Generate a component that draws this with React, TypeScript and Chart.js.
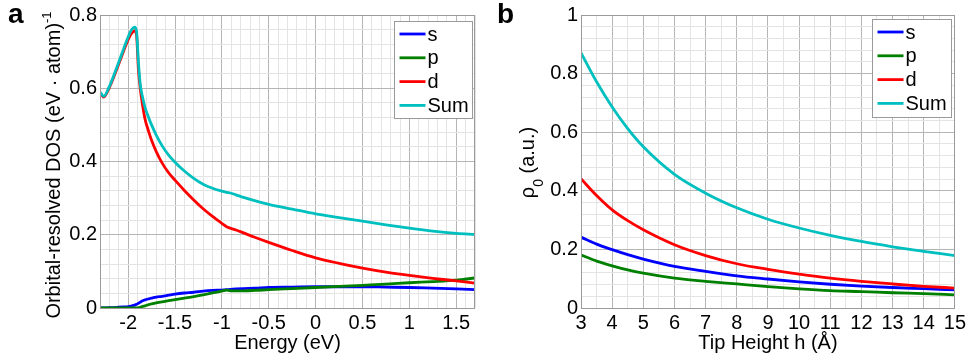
import React, { useEffect, useRef } from "react";
import { Chart, registerables } from "chart.js";

Chart.register(...registerables);

const FONT = '"Liberation Sans", Arial, Helvetica, sans-serif';

// ---------- Panel a: orbital-resolved DOS vs energy ----------
const energyEv = [
  -2.3, -2.26, -2.2, -2.15, -2.1, -2.05, -2.0, -1.96, -1.93, -1.91,
  -1.89, -1.87, -1.85, -1.82, -1.78, -1.75, -1.7, -1.64, -1.57, -1.5,
  -1.4, -1.3, -1.2, -1.1, -1.0, -0.95, -0.91, -0.85, -0.77, -0.65,
  -0.5, -0.25, 0, 0.25, 0.5, 0.75, 1.0, 1.25, 1.5, 1.7,
];
const dosS = [
  0.0, 0.0, 0.001, 0.001, 0.002, 0.003, 0.004, 0.006, 0.008, 0.01,
  0.013, 0.016, 0.019, 0.022, 0.025, 0.027, 0.03, 0.032, 0.035, 0.038,
  0.041, 0.043, 0.046, 0.048, 0.049, 0.05, 0.051, 0.052, 0.053, 0.054,
  0.056, 0.057, 0.058, 0.058, 0.058, 0.057, 0.056, 0.054, 0.052, 0.05,
];
const dosP = [
  0, 0, 0, 0, 0, 0, 0, 0, 0, 0,
  0.001, 0.002, 0.004, 0.006, 0.009, 0.011, 0.014, 0.017, 0.02, 0.023,
  0.027, 0.031, 0.036, 0.041, 0.046, 0.049, 0.047, 0.047, 0.047, 0.048,
  0.05, 0.053, 0.056, 0.059, 0.062, 0.065, 0.069, 0.072, 0.076, 0.082,
];
const dosD = [
  0.587, 0.576, 0.602, 0.633, 0.666, 0.7, 0.733, 0.751, 0.757, 0.745,
  0.65, 0.598, 0.561, 0.516, 0.481, 0.458, 0.427, 0.397, 0.37, 0.349,
  0.321, 0.295, 0.271, 0.25, 0.231, 0.222, 0.218, 0.213, 0.205, 0.193,
  0.179, 0.157, 0.137, 0.122, 0.109, 0.098, 0.089, 0.081, 0.074, 0.068,
];
const dosSum = [
  0.589, 0.578, 0.605, 0.637, 0.671, 0.706, 0.74, 0.761, 0.767, 0.755,
  0.671, 0.609, 0.58, 0.548, 0.519, 0.5, 0.472, 0.444, 0.418, 0.398,
  0.374, 0.354, 0.338, 0.327, 0.319, 0.316, 0.314, 0.309, 0.302, 0.293,
  0.283, 0.27, 0.257, 0.247, 0.237, 0.227, 0.218, 0.21, 0.204, 0.201,
];
const aXTickValues = [-2, -1.5, -1, -0.5, 0, 0.5, 1, 1.5];
const aXTickLabels = ["-2", "-1.5", "-1", "-0.5", "0", "0.5", "1", "1.5"];
const aYTickValues = [0, 0.2, 0.4, 0.6, 0.8];
const aYTickLabels = ["0", "0.2", "0.4", "0.6", "0.8"];

// ---------- Panel b: rho_0 vs tip height ----------
const tipHeight = [3, 3.5, 4, 4.5, 5, 6, 7, 8, 9, 10, 11, 12, 13, 14, 15];
const rhoS = [0.242, 0.218, 0.199, 0.182, 0.167, 0.142, 0.125, 0.11, 0.099, 0.089, 0.081, 0.075, 0.07, 0.066, 0.062];
const rhoP = [0.181, 0.16, 0.144, 0.13, 0.119, 0.102, 0.091, 0.082, 0.073, 0.065, 0.059, 0.056, 0.052, 0.049, 0.045];
const rhoD = [0.441, 0.384, 0.335, 0.298, 0.267, 0.216, 0.179, 0.151, 0.132, 0.116, 0.102, 0.091, 0.082, 0.074, 0.068];
const rhoSum = [0.871, 0.772, 0.686, 0.612, 0.55, 0.456, 0.392, 0.342, 0.303, 0.273, 0.248, 0.227, 0.209, 0.193, 0.179];
const bXTickValues = [3, 4, 5, 6, 7, 8, 9, 10, 11, 12, 13, 14, 15];
const bXTickLabels = ["3", "4", "5", "6", "7", "8", "9", "10", "11", "12", "13", "14", "15"];
const bYTickValues = [0, 0.2, 0.4, 0.6, 0.8, 1];
const bYTickLabels = ["0", "0.2", "0.4", "0.6", "0.8", "1"];

const seriesNames = ["s", "p", "d", "Sum"];
const seriesColors = ["#0000ff", "#008000", "#ff0000", "#00bfbf"];

const MAJOR_GRID = "#b5b5b5";
const MINOR_GRID = "#e4e4e4";
const BOX_COLOR = "#9a9a9a";

type TitlePart = { text: string; size: number; shift: number };

type PanelSpec = {
  xs: number[];
  series: number[][];
  xMin: number;
  xMax: number;
  xMinor: number;
  yMin: number;
  yMax: number;
  yMinor: number;
  xTickValues: number[];
  xTickLabels: string[];
  yTickValues: number[];
  yTickLabels: string[];
  xTitle: string;
  yTitleParts: TitlePart[];
  yTitleBaselineX: number;
  yTitleCenterY: number;
  yAxisWidth: number;
  padRight: number;
  legendRightGap: number;
  legendTopGap: number;
  legendW: number;
  legendH: number;
};

function gridValues(min: number, max: number, step: number): number[] {
  const n = Math.round((max - min) / step);
  const out: number[] = [];
  for (let i = 0; i <= n; i++) out.push(+(min + i * step).toFixed(6));
  return out;
}

function findIdx(list: number[], v: number): number {
  return list.findIndex((t) => Math.abs(t - v) < 1e-6);
}

function makeConfig(p: PanelSpec): any {
  const boxPlugin = {
    id: "boxPlugin",
    afterDatasetsDraw(chart: any) {
      const { ctx, chartArea } = chart;
      ctx.save();
      ctx.strokeStyle = BOX_COLOR;
      ctx.lineWidth = 1;
      ctx.strokeRect(
        Math.round(chartArea.left) + 0.5,
        Math.round(chartArea.top) + 0.5,
        Math.round(chartArea.right - chartArea.left) - 1,
        Math.round(chartArea.bottom - chartArea.top)
      );
      ctx.restore();
    },
  };

  const legendPlugin = {
    id: "insideLegend",
    afterDraw(chart: any) {
      const { ctx, chartArea } = chart;
      const bx = Math.round(chartArea.right - p.legendRightGap - p.legendW) + 0.5;
      const by = Math.round(chartArea.top + p.legendTopGap) + 0.5;
      ctx.save();
      ctx.fillStyle = "#ffffff";
      ctx.fillRect(bx, by, p.legendW, p.legendH);
      ctx.strokeStyle = BOX_COLOR;
      ctx.lineWidth = 1;
      ctx.strokeRect(bx, by, p.legendW, p.legendH);
      const dsets = chart.data.datasets;
      for (let i = 0; i < dsets.length; i++) {
        const y = by + 12.5 + i * 23.8;
        ctx.strokeStyle = dsets[i].borderColor;
        ctx.lineWidth = 2.8;
        ctx.beginPath();
        ctx.moveTo(bx + 5, y);
        ctx.lineTo(bx + 31, y);
        ctx.stroke();
        ctx.fillStyle = "#000";
        ctx.font = `20px ${FONT}`;
        ctx.textAlign = "left";
        ctx.textBaseline = "middle";
        ctx.fillText(dsets[i].label, bx + 33, y + 1);
      }
      ctx.restore();
    },
  };

  const titlePlugin = {
    id: "axisTitles",
    afterDraw(chart: any) {
      const { ctx, chartArea } = chart;
      ctx.save();
      ctx.fillStyle = "#000";
      ctx.font = `20px ${FONT}`;
      ctx.textAlign = "center";
      ctx.textBaseline = "alphabetic";
      ctx.fillText(p.xTitle, (chartArea.left + chartArea.right) / 2, 348.5);
      ctx.translate(p.yTitleBaselineX, p.yTitleCenterY);
      ctx.rotate(-Math.PI / 2);
      ctx.textAlign = "left";
      let total = 0;
      for (const part of p.yTitleParts) {
        ctx.font = `${part.size}px ${FONT}`;
        total += ctx.measureText(part.text).width;
      }
      let x = -total / 2;
      for (const part of p.yTitleParts) {
        ctx.font = `${part.size}px ${FONT}`;
        ctx.fillText(part.text, x, -part.shift);
        x += ctx.measureText(part.text).width;
      }
      ctx.restore();
    },
  };

  const datasets = p.series.map((vals, i) => ({
    label: seriesNames[i],
    data: p.xs.map((x, j) => ({ x, y: vals[j] })),
    borderColor: seriesColors[i],
    backgroundColor: seriesColors[i],
    borderWidth: 2.8,
    pointRadius: 0,
    fill: false,
    cubicInterpolationMode: "monotone",
    order: p.series.length - i,
  }));

  const tickFont = { family: FONT, size: 20 };

  return {
    type: "line",
    data: { datasets },
    options: {
      animation: false,
      responsive: false,
      maintainAspectRatio: false,
      devicePixelRatio: 1,
      events: [],
      layout: { padding: { top: 15, right: p.padRight, left: 0, bottom: 0 } },
      plugins: {
        legend: { display: false },
        tooltip: { enabled: false },
        title: { display: false },
      },
      scales: {
        x: {
          type: "linear",
          min: p.xMin,
          max: p.xMax,
          afterBuildTicks: (s: any) => {
            s.ticks = gridValues(p.xMin, p.xMax, p.xMinor).map((v) => ({ value: v }));
          },
          afterFit: (s: any) => {
            s.height = 52;
          },
          border: { display: false },
          grid: {
            drawTicks: false,
            lineWidth: 1,
            color: (c: any) =>
              c.tick && findIdx(p.xTickValues, c.tick.value) >= 0 ? MAJOR_GRID : MINOR_GRID,
          },
          ticks: {
            autoSkip: false,
            maxRotation: 0,
            minRotation: 0,
            padding: 3,
            color: "#000",
            font: tickFont,
            callback: (v: number) => {
              const k = findIdx(p.xTickValues, v);
              return k >= 0 ? p.xTickLabels[k] : "";
            },
          },
        },
        y: {
          type: "linear",
          min: p.yMin,
          max: p.yMax,
          afterBuildTicks: (s: any) => {
            s.ticks = gridValues(p.yMin, p.yMax, p.yMinor).map((v) => ({ value: v }));
          },
          afterFit: (s: any) => {
            s.width = p.yAxisWidth;
          },
          border: { display: false },
          grid: {
            drawTicks: false,
            lineWidth: 1,
            color: (c: any) =>
              c.tick && findIdx(p.yTickValues, c.tick.value) >= 0 ? MAJOR_GRID : MINOR_GRID,
          },
          ticks: {
            autoSkip: false,
            padding: 3,
            color: "#000",
            font: tickFont,
            callback: (v: number) => {
              const k = findIdx(p.yTickValues, v);
              return k >= 0 ? p.yTickLabels[k] : "";
            },
          },
        },
      },
    },
    plugins: [boxPlugin, titlePlugin, legendPlugin],
  };
}

const panelA: PanelSpec = {
  xs: energyEv,
  series: [dosS, dosP, dosD, dosSum],
  xMin: -2.3,
  xMax: 1.7,
  xMinor: 0.1,
  yMin: 0,
  yMax: 0.8,
  yMinor: 0.04,
  xTickValues: aXTickValues,
  xTickLabels: aXTickLabels,
  yTickValues: aYTickValues,
  yTickLabels: aYTickLabels,
  xTitle: "Energy (eV)",
  yTitleParts: [
    { text: "Orbital-resolved DOS (eV \u00b7 atom)", size: 20, shift: 0 },
    { text: "-1", size: 13, shift: 8.5 },
  ],
  yTitleBaselineX: 59.5,
  yTitleCenterY: 165,
  yAxisWidth: 100,
  padRight: 5,
  legendRightGap: 3.5,
  legendTopGap: 6,
  legendW: 78,
  legendH: 97,
};

const panelB: PanelSpec = {
  xs: tipHeight,
  series: [rhoS, rhoP, rhoD, rhoSum],
  xMin: 3,
  xMax: 15,
  xMinor: 0.5,
  yMin: 0,
  yMax: 1,
  yMinor: 0.04,
  xTickValues: bXTickValues,
  xTickLabels: bXTickLabels,
  yTickValues: bYTickValues,
  yTickLabels: bYTickLabels,
  xTitle: "Tip Height h (\u00c5)",
  yTitleParts: [
    { text: "\u03c1", size: 20, shift: 0 },
    { text: "0", size: 14, shift: -9 },
    { text: " (a.u.)", size: 20, shift: 0 },
  ],
  yTitleBaselineX: 54,
  yTitleCenterY: 162.5,
  yAxisWidth: 101,
  padRight: 14,
  legendRightGap: 4,
  legendTopGap: 4,
  legendW: 79,
  legendH: 98,
};

function Panel({ spec, left, width }: { spec: PanelSpec; left: number; width: number }) {
  const ref = useRef<HTMLCanvasElement | null>(null);
  useEffect(() => {
    if (!ref.current) return;
    const chart = new Chart(ref.current, makeConfig(spec));
    return () => chart.destroy();
  }, [spec]);
  return (
    <canvas
      ref={ref}
      width={width}
      height={360}
      style={{ position: "absolute", left, top: 0, width, height: 360 }}
    />
  );
}

export default function App() {
  const labelStyle: React.CSSProperties = {
    position: "absolute",
    top: 0,
    fontFamily: FONT,
    fontWeight: "bold",
    fontSize: 28,
    lineHeight: 1,
    color: "#000",
  };
  return (
    <div
      style={{
        position: "absolute",
        left: 0,
        top: 0,
        width: 969,
        height: 360,
        background: "#ffffff",
        overflow: "hidden",
      }}
    >
      <Panel spec={panelA} left={0} width={480} />
      <Panel spec={panelB} left={480} width={489} />
      <div style={{ ...labelStyle, left: 8 }}>a</div>
      <div style={{ ...labelStyle, left: 497 }}>b</div>
    </div>
  );
}
